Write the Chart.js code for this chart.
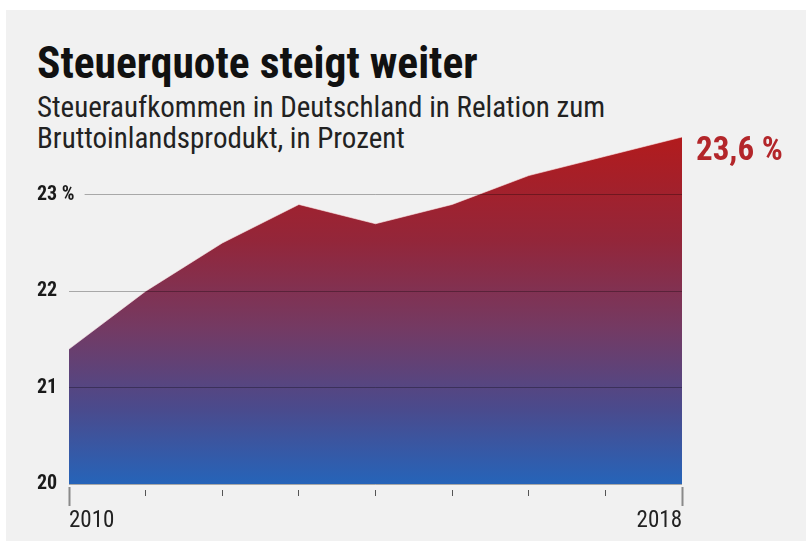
<!DOCTYPE html>
<html>
<head>
<meta charset="utf-8">
<script src="https://cdn.jsdelivr.net/npm/chart.js@4/dist/chart.umd.min.js"></script>
<style>
  html, body { margin: 0; padding: 0; background: #fff; }
  #panel { position: absolute; left: 6px; top: 10px; width: 800px; height: 531px; background: #f1f1f1; }
  #wrap { position: absolute; left: 0; top: 0; width: 810px; height: 543px; }
  .txt { position: absolute; left: 37px; font-family: "Roboto Condensed", "Liberation Sans Narrow", "DejaVu Sans Condensed", sans-serif; color: #111; white-space: nowrap; }
  #title { top: 39px; font-size: 43.5px; font-weight: bold; line-height: 50px; }
  #sub { top: 92px; font-size: 29px; line-height: 31px; color: #222; }
</style>
</head>
<body>
<div id="panel"></div>
<div class="txt" id="title">Steuerquote steigt weiter</div>
<div class="txt" id="sub">Steueraufkommen in Deutschland in Relation zum<br>Bruttoinlandsprodukt, in Prozent</div>
<div id="wrap"><canvas id="myChart" width="810" height="543"></canvas></div>
<script>
const years = ['2010', '2011', '2012', '2013', '2014', '2015', '2016', '2017', '2018'];
const quote = [21.4, 22.0, 22.5, 22.9, 22.7, 22.9, 23.2, 23.4, 23.6];
const yTicks = [20, 21, 22, 23];
const lastLabel = '23,6 %';

const FONT = '"Roboto Condensed", "Liberation Sans Narrow", "DejaVu Sans Condensed", sans-serif';

const endLabel = {
    id: 'endLabel',
    afterDraw: (chart) => {
        const ctx = chart.ctx;
        const y = chart.scales.y.getPixelForValue(quote[quote.length - 1]);
        ctx.save();
        ctx.font = 'bold 33px ' + FONT;
        ctx.fillStyle = '#b3262a';
        ctx.textBaseline = 'middle';
        ctx.textAlign = 'left';
        ctx.fillText(lastLabel, chart.chartArea.right + 14, y + 15);
        ctx.restore();
    }
};

function areaFill(context) {
    const area = context.chart.chartArea;
    if (!area) return '#7a3560';
    const g = context.chart.ctx.createLinearGradient(0, area.top, 0, area.bottom);
    g.addColorStop(0, '#b21b1d');
    g.addColorStop(0.3, '#93263a');
    g.addColorStop(0.55, '#743a63');
    g.addColorStop(0.78, '#4b4a8c');
    g.addColorStop(1, '#2664b9');
    return g;
}

const ctx = document.getElementById('myChart');
new Chart(ctx, {
    type: 'line',
    data: {
        labels: years,
        datasets: [{
            data: quote,
            fill: 'start',
            backgroundColor: areaFill,
            borderColor: 'rgba(255,235,235,0.6)',
            borderWidth: 1,
            pointRadius: 0,
            tension: 0
        }]
    },
    options: {
        responsive: false,
        animation: false,
        events: [],
        layout: { padding: { left: 37, right: 128, top: 137, bottom: 0 } },
        plugins: { legend: { display: false }, tooltip: { enabled: false } },
        scales: {
            x: {
                grid: {
                    drawOnChartArea: false,
                    tickLength: 22,
                    tickColor: (c) => (c.index === 0 || c.index === years.length - 1) ? '#8a8a8a' : '#555',
                    tickWidth: (c) => (c.index === 0 || c.index === years.length - 1) ? 2 : 1,
                    tickBorderDash: (c) => (c.index === 0 || c.index === years.length - 1) ? [0, 3, 19, 10] : [0, 6, 6, 20]
                },
                border: { display: false },
                ticks: {
                    autoSkip: false,
                    maxRotation: 0,
                    align: 'inner',
                    padding: 1,
                    color: '#222',
                    font: { family: FONT, size: 23 },
                    callback: (v, i) => (i === 0 || i === years.length - 1) ? years[i] : ''
                },
                afterFit: (s) => { s.height = 59; }
            },
            y: {
                min: 20,
                max: 23.6,
                afterBuildTicks: (s) => { s.ticks = yTicks.map(v => ({ value: v })); },
                grid: { color: 'rgba(0,0,0,0.3)', lineWidth: 1, drawTicks: false, z: 1 },
                border: { display: false },
                ticks: {
                    mirror: true,
                    crossAlign: 'near',
                    padding: -32,
                    z: 2,
                    color: '#1a1a1a',
                    font: { family: FONT, size: 20, weight: 'bold' },
                    showLabelBackdrop: true,
                    backdropColor: '#f1f1f1',
                    backdropPadding: { left: 0, right: 10, top: 0, bottom: 0 },
                    callback: (v) => v === 23 ? '23 %' : String(v)
                },
                afterFit: (s) => { s.width = 32; }
            }
        }
    },
    plugins: [endLabel]
});
</script>
</body>
</html>
